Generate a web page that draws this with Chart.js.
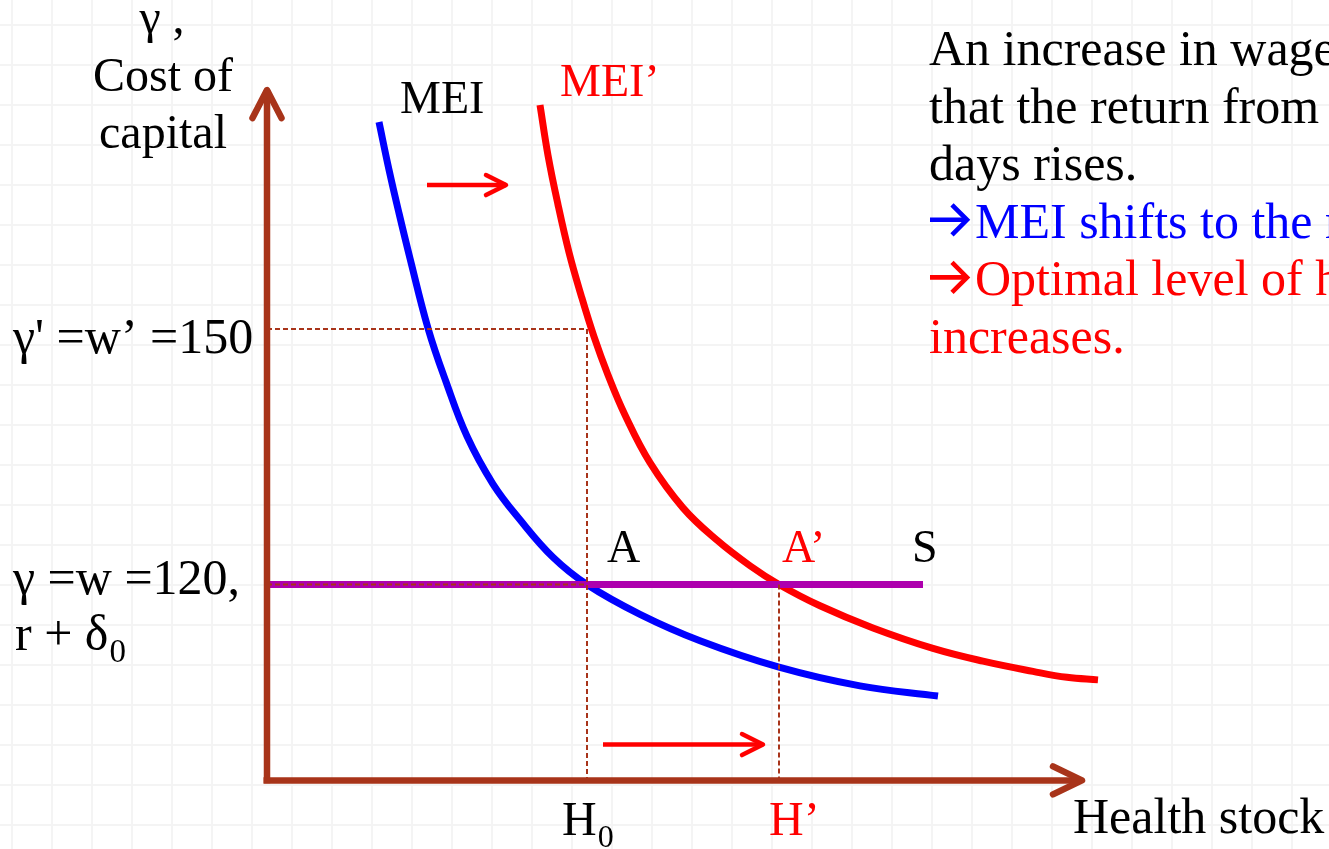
<!DOCTYPE html>
<html><head><meta charset="utf-8">
<script src="https://cdn.jsdelivr.net/npm/chart.js@4.4.1/dist/chart.umd.min.js"></script>
<style>
html,body{margin:0;padding:0;width:1329px;height:849px;overflow:hidden;background-color:#fff;}
body{background-image:linear-gradient(to right,#f4f4f4 2px,transparent 2px),linear-gradient(to bottom,#f4f4f4 2px,transparent 2px);background-size:40px 40px;background-position:11px 24px;}
canvas{display:block}
</style></head><body>
<canvas id="c" width="1329" height="849"></canvas>
<script>
// ---------- data ----------
const meiX = [11.2, 12.2, 13.2, 14.3, 16.1, 17.9, 20.0, 22.6, 25.3, 28.6, 32.0, 37.3, 43.3, 51.2, 59.3, 67.1];
const meiY = [174.3, 168.7, 163.6, 158.3, 150.1, 143.8, 137.4, 131.8, 127.6, 123.2, 120.0, 116.5, 113.4, 110.3, 108.1, 106.9];
const meiPrimeX = [27.3, 28.1, 29.1, 30.2, 31.4, 32.7, 34.1, 35.8, 38.3, 41.6, 45.0, 48.3, 51.2, 55.3, 60.6, 66.6, 71.6, 76.6, 80.0, 83.1];
const meiPrimeY = [176.3, 170.4, 164.6, 159.0, 154.0, 149.1, 144.6, 139.9, 134.3, 129.0, 125.2, 122.2, 120.0, 117.5, 114.9, 112.5, 111.0, 109.8, 109.1, 108.8];
const supplyX = [0, 65.6];
const costOld = 120;      // gamma = w = 120
const costNew = 150;      // gamma' = w' = 150
const healthOld = 32;     // H0
const healthNew = 51.2;   // H'
const axisOriginX = 0, axisOriginY = 97;
const yAxisTop = 178.06, xAxisEnd = 81.5;
const shiftArrowTopX = [16.0, 23.9], shiftArrowTopY = 166.9;
const shiftArrowBottomX = [33.6, 49.6], shiftArrowBottomY = 101.2;
const yTickValues = [costNew, costOld];
const yTickLabels = ["γ' =w’ =150", "γ =w =120,"];
const xTickValues = [healthOld, healthNew];
const xTickLabels = [["H", "0"], ["H’", ""]];
const noteLines = ["An increase in wages means", "that the return from healthy", "days rises.", "→MEI shifts to the right.", "→Optimal level of health", "increases."];

// ---------- styles ----------
const BROWN = '#A8341A', BLUE = '#0000FF', RED = '#FF0000', MAGENTA = '#AE00AE';
const FONT = '"Liberation Serif", "Times New Roman", serif';

const pts = (xs, ys) => xs.map((x, i) => ({x, y: ys[i]}));
const line = (data, color, width, extra) => Object.assign({
  data, showLine: true, borderColor: color, backgroundColor: color, borderWidth: width,
  pointRadius: 0, pointHoverRadius: 0, tension: 0, fill: false
}, extra || {});

const datasets = [
  // axes (top-most)
  line([{x: axisOriginX, y: axisOriginY - 0.35}, {x: axisOriginX, y: yAxisTop}], BROWN, 6.5, {arrow: {len: 28, half: 14.5, width: 6.5}}),
  line([{x: axisOriginX - 0.35, y: axisOriginY}, {x: xAxisEnd, y: axisOriginY}], BROWN, 6.5, {arrow: {len: 29, half: 14, width: 6.5}}),
  // dashed guides
  line([{x: axisOriginX, y: costNew}, {x: healthOld, y: costNew}, {x: healthOld, y: axisOriginY}], BROWN, 2, {borderDash: [5, 3]}),
  line([{x: axisOriginX, y: costOld}, {x: healthOld, y: costOld}], BROWN, 2, {borderDash: [5, 3]}),
  line([{x: healthNew, y: costOld}, {x: healthNew, y: axisOriginY}], BROWN, 2, {borderDash: [5, 3]}),
  // supply line S
  line(pts(supplyX, [costOld, costOld]), MAGENTA, 7),
  // MEI curves
  line(pts(meiPrimeX, meiPrimeY), RED, 7, {tension: 0.4}),
  line(pts(meiX, meiY), BLUE, 7, {tension: 0.4}),
  // shift arrows
  line(pts(shiftArrowTopX, [shiftArrowTopY, shiftArrowTopY]), RED, 4.5, {arrow: {len: 20, half: 10, width: 4.5}}),
  line(pts(shiftArrowBottomX, [shiftArrowBottomY, shiftArrowBottomY]), RED, 4.5, {arrow: {len: 21, half: 10.5, width: 4.5}})
];

const arrowPlugin = {
  id: 'arrowHeads',
  afterDatasetsDraw(chart) {
    const ctx = chart.ctx;
    chart.data.datasets.forEach((ds, i) => {
      if (!ds.arrow) return;
      const els = chart.getDatasetMeta(i).data;
      const p1 = els[els.length - 2], p2 = els[els.length - 1];
      const ang = Math.atan2(p2.y - p1.y, p2.x - p1.x);
      const L = ds.arrow.len, W = ds.arrow.half;
      const bx = p2.x - L * Math.cos(ang), by = p2.y - L * Math.sin(ang);
      const nx = -Math.sin(ang), ny = Math.cos(ang);
      ctx.save();
      ctx.strokeStyle = ds.borderColor;
      ctx.lineWidth = ds.arrow.width;
      ctx.lineCap = 'round'; ctx.lineJoin = 'round';
      ctx.beginPath();
      ctx.moveTo(bx + W * nx, by + W * ny);
      ctx.lineTo(p2.x, p2.y);
      ctx.lineTo(bx - W * nx, by - W * ny);
      ctx.stroke();
      ctx.restore();
    });
  }
};

function drawParts(ctx, parts, x, y, color, size, align) {
  ctx.fillStyle = color;
  ctx.textBaseline = 'alphabetic';
  ctx.font = size + 'px ' + FONT;
  const w1 = ctx.measureText(parts[0]).width;
  ctx.font = Math.round(size * 0.66) + 'px ' + FONT;
  const w2 = parts[1] ? ctx.measureText(parts[1]).width : 0;
  let left = x;
  if (align === 'center') left = x - (w1 + w2) / 2;
  ctx.textAlign = 'left';
  ctx.font = size + 'px ' + FONT;
  ctx.fillText(parts[0], left, y);
  if (parts[1]) {
    ctx.font = Math.round(size * 0.66) + 'px ' + FONT;
    ctx.fillText(parts[1], left + w1 + 1, y + size * 0.24);
  }
}

function drawBulletArrow(ctx, x, cy, color) {
  ctx.save();
  ctx.strokeStyle = color;
  ctx.lineWidth = 4.6;
  ctx.lineCap = 'butt';
  ctx.lineJoin = 'miter';
  ctx.beginPath();
  ctx.moveTo(x, cy);
  ctx.lineTo(x + 36, cy);
  ctx.stroke();
  ctx.beginPath();
  ctx.moveTo(x + 22, cy - 15);
  ctx.lineTo(x + 37, cy);
  ctx.lineTo(x + 22, cy + 15);
  ctx.stroke();
  ctx.restore();
}

const labelPlugin = {
  id: 'labels',
  afterDraw(chart) {
    const ctx = chart.ctx;
    const xs = chart.scales.x, ys = chart.scales.y;
    ctx.save();
    // y axis title
    drawParts(ctx, ['γ ,'], 162, 33, '#000', 48, 'center');
    drawParts(ctx, ['Cost of'], 163, 91, '#000', 48, 'center');
    drawParts(ctx, ['capital'], 163, 148, '#000', 48, 'center');
    // y tick labels
    const yOff = [24, 10];
    yTickValues.forEach((v, i) => {
      drawParts(ctx, [yTickLabels[i]], 13, ys.getPixelForValue(v) + yOff[i], '#000', 50, 'left');
    });
    drawParts(ctx, ['r + δ', '0'], 15, ys.getPixelForValue(costOld) + 66, '#000', 50, 'left');
    // x tick labels
    const xOff = [-25, -10];
    const xCol = ['#000', RED];
    xTickValues.forEach((v, i) => {
      drawParts(ctx, xTickLabels[i], xs.getPixelForValue(v) + xOff[i], 835, xCol[i], 48, 'left');
    });
    drawParts(ctx, ['Health stock'], 1073, 833, '#000', 50, 'left');
    // curve labels
    drawParts(ctx, ['MEI'], 400, 113, '#000', 46, 'left');
    drawParts(ctx, ['MEI’'], 560, 96, RED, 46, 'left');
    drawParts(ctx, ['A'], 607, 562, '#000', 46, 'left');
    drawParts(ctx, ['A’'], 782, 562, RED, 46, 'left');
    drawParts(ctx, ['S'], 912, 562, '#000', 46, 'left');
    // note
    const cols = ['#000', '#000', '#000', BLUE, RED, RED];
    noteLines.forEach((t, i) => {
      const base = 65 + i * 57.6;
      if (t.startsWith('→')) {
        drawBulletArrow(ctx, 930, base - 18, cols[i]);
        drawParts(ctx, [t.slice(1)], 975, base, cols[i], 50, 'left');
      } else {
        drawParts(ctx, [t], 929, base, cols[i], 50, 'left');
      }
    });
    ctx.restore();
  }
};

new Chart(document.getElementById('c'), {
  type: 'scatter',
  data: {datasets},
  options: {
    responsive: false,
    animation: false,
    devicePixelRatio: 1,
    events: [],
    layout: {padding: 0},
    plugins: {legend: {display: false}, tooltip: {enabled: false}},
    scales: {
      x: {type: 'linear', min: -26.7, max: 106.2, display: false},
      y: {type: 'linear', min: 88.943, max: 188.63, display: false}
    }
  },
  plugins: [arrowPlugin, labelPlugin]
});
</script>
</body></html>
